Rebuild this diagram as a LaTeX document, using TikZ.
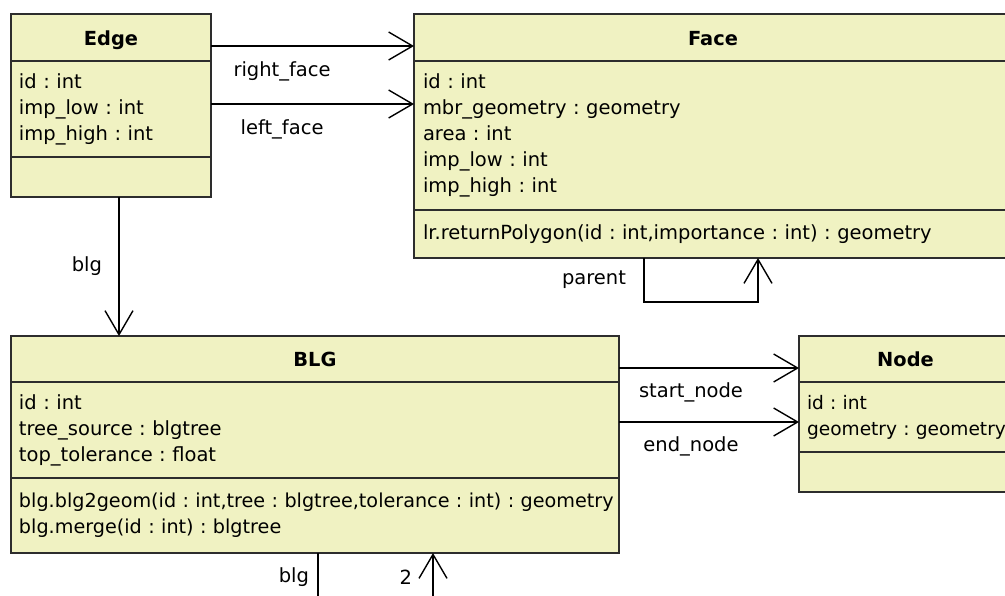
\documentclass[tikz,border=0pt]{standalone}
\usepackage{fontspec}
\setmainfont{DejaVu Sans}
\usetikzlibrary{arrows.meta,positioning}
\frenchspacing

\definecolor{classfill}{RGB}{240,242,194}
\definecolor{classline}{RGB}{45,45,45}

% one compartment line per row, never broken
\newcommand{\umlrows}[1]{\begin{tabular}{@{}l@{}}#1\end{tabular}}

\tikzset{
  classpart/.style={draw=classline,fill=classfill,line width=1.4pt,outer sep=0pt,
    inner xsep=8pt,anchor=north,align=left,font=\fontsize{19.5}{26}\selectfont},
  classtitle/.style={classpart,align=center,text height=18pt,text depth=3pt,
    font=\fontsize{19.4}{22}\selectfont\bfseries},
  assoc/.style={line width=1.4pt,-{Straight Barb[length=24pt,width=28pt,line width=1.4pt]}},
  rolename/.style={font=\fontsize{19.5}{22}\selectfont}
}

\begin{document}
\begin{tikzpicture}[x=1pt,y=1pt]
\clip (0,0) rectangle (1005,-595);

% The boxes
\node (edgetitle) at (111,-14) [classtitle,minimum width=200,minimum height=47,text width=184] {Edge};
\node (edgeattr) [classpart,below=0pt of edgetitle,minimum width=200,minimum height=96,text width=184]
  {\umlrows{id : int\\imp\_low : int\\imp\_high : int}};
\node (edgemeth) [classpart,below=0pt of edgeattr,minimum width=200,minimum height=40,text width=184] {};

\node (facetitle) at (713,-14) [classtitle,minimum width=598,minimum height=47,text width=582] {Face};
\node (faceattr) [classpart,below=0pt of facetitle,minimum width=598,minimum height=149,text width=580]
  {\umlrows{id : int\\mbr\_geometry : geometry\\area : int\\imp\_low : int\\imp\_high : int}};
\node (facemeth) [classpart,below=0pt of faceattr,minimum width=598,minimum height=48,text width=580]
  {\umlrows{lr.returnPolygon(id : int,importance : int) : geometry}};

\node (blgtitle) at (315,-336) [classtitle,minimum width=608,minimum height=46,text width=592] {BLG};
\node (blgattr) [classpart,below=0pt of blgtitle,minimum width=608,minimum height=96,text width=592]
  {\umlrows{id : int\\tree\_source : blgtree\\top\_tolerance : float}};
\node (blgmeth) [classpart,below=0pt of blgattr,minimum width=608,minimum height=75,text width=592,
  font=\fontsize{19.2}{26}\selectfont]
  {\umlrows{blg.blg2geom(id : int,tree : blgtree,tolerance : int) : geometry\\blg.merge(id : int) : blgtree}};

\node (nodetitle) at (905.5,-336) [classtitle,minimum width=213,minimum height=46,text width=197] {Node};
\node (nodeattr) [classpart,below=0pt of nodetitle,minimum width=213,minimum height=70,text width=197,
  font=\fontsize{18.6}{26}\selectfont]
  {\umlrows{id : int\\geometry : geometry}};
\node (nodemeth) [classpart,below=0pt of nodeattr,minimum width=213,minimum height=40,text width=197] {};

% Edge to Face
\draw[assoc] ([yshift=-8.5]edgetitle.east) -- ([yshift=-8.5]facetitle.west)
  node[rolename,pos=.35,yshift=-25]{right\_face};
\draw[assoc] ([yshift=5]edgeattr.east) coordinate(leftfacestart) -- (leftfacestart -| faceattr.west)
  node[rolename,pos=.35,yshift=-25]{left\_face};

% Edge to BLG, Face to itself
\draw[assoc] ([xshift=8]edgemeth.south) -- ([xshift=8]edgemeth.south |- blgtitle.north)
  node[rolename,midway,left=13pt]{blg};
\draw[assoc] ([xshift=230]facemeth.south west) -- ++(0,-44) node[rolename,midway,left=14pt]{parent}
  -| ([xshift=344]facemeth.south west);

% BLG to Node
\draw[assoc] ([yshift=-9]blgtitle.east) -- ([yshift=-9]blgtitle.east -| nodetitle.west)
  node[rolename,pos=.4,yshift=-24]{start\_node};
\draw[assoc] ([yshift=8]blgattr.east) coordinate(endnodestart) -- (endnodestart -| nodeattr.west)
  node[rolename,pos=.4,yshift=-24]{end\_node};

% below BLG
\draw[line width=1.4pt] ([xshift=307]blgmeth.south west) -- ++(0,-48) node[rolename,midway,left=5pt]{blg};
\draw[assoc] ([xshift=422,yshift=-48]blgmeth.south west) coordinate(twoend) -- (twoend |- blgmeth.south)
  node[rolename,midway,left=17pt]{2};

\end{tikzpicture}
\end{document}
